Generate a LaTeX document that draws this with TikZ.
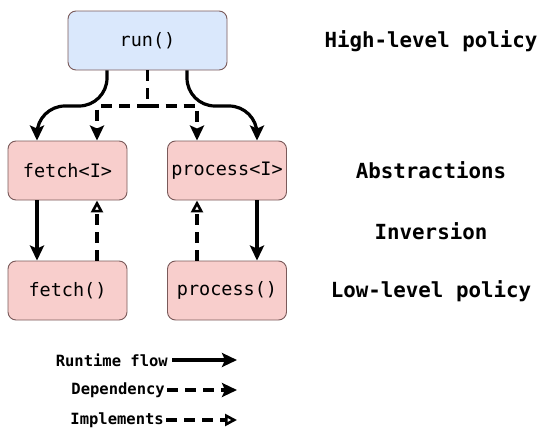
\documentclass[tikz,border=0pt]{standalone}
\usepackage{fontspec}
\setmonofont{DejaVu Sans Mono}
\usetikzlibrary{arrows.meta}
\definecolor{bluefill}{HTML}{DAE8FC}
\definecolor{redfill}{HTML}{F8CECC}
\definecolor{boxline}{HTML}{7A5A5A}
\tikzset{
  box/.style={draw=boxline, line width=0.9pt, rounded corners=8pt, minimum width=119pt, minimum height=59pt, inner sep=0pt, font=\ttfamily\fontsize{18.5}{20}\selectfont},
  hi/.style={box, fill=bluefill, minimum width=159pt},
  lo/.style={box, fill=redfill},
  side/.style={font=\ttfamily\bfseries\fontsize{20.8}{22}\selectfont},
  legend/.style={font=\ttfamily\bfseries\fontsize{15.5}{18}\selectfont, anchor=east, inner sep=0pt},
  flow/.style={line width=3.2pt, -{Stealth[length=15pt,width=14pt,inset=3pt]}},
  dashline/.style={line width=3.2pt, dash pattern=on 11pt off 7pt},
  dep/.style={dashline, -{Stealth[length=15pt,width=14pt,inset=3pt]}},
  impl/.style={dashline, -{Triangle[length=12pt,width=12pt,fill=white,line width=2.6pt]}},
}
\begin{document}
\begin{tikzpicture}[x=1pt,y=-1pt]
\useasboundingbox (0,0) rectangle (544,447);
\node[hi] (run) at (147.5,40.5) {run()};
\node[lo] (fetchI) at (67.5,170.5) {fetch<I>};
\node[lo] (procI) at (227,170.5) {process<I>};
\node[lo] (fetch) at (67.5,290.5) {fetch()};
\node[lo] (proc) at (227,290.5) {process()};

\node[side] (l1) at (431,41) {High-level policy};
\node[side] (l2) at (431,170) {Abstractions};
\node[side] (l3) at (431,231) {Inversion};
\node[side] (l4) at (431,291) {Low-level policy};

% runtime flow
\draw[flow, rounded corners=28pt] (run.south -| 107,0) -- (107,106) -- (37,106) -- (fetchI.north -| 37,0);
\draw[flow, rounded corners=28pt] (run.south -| 187,0) -- (187,106) -- (257,106) -- (procI.north -| 257,0);
% dependency
\coordinate (split) at (147.5,106);
\draw[dashline] (run.south) -- (split);
\draw[dep] (split) -- (97,106) -- (fetchI.north -| 97,0);
\draw[dep] (split) -- (197,106) -- (procI.north -| 197,0);
% lower
\draw[flow] (fetchI.south -| 37,0) -- (fetch.north -| 37,0);
\draw[impl] (fetch.north -| 97,0) -- (fetchI.south -| 97,0);
\draw[impl] (proc.north -| 197,0) -- (procI.south -| 197,0);
\draw[flow] (procI.south -| 257,0) -- (proc.north -| 257,0);

% legend
\node[legend] (lg1) at (168,360) {Runtime flow};
\node[legend] (lg2) at (165,390) {Dependency};
\node[legend] (lg3) at (164,420) {Implements};
\coordinate (e1) at (237,360);
\coordinate (e2) at (237,390);
\coordinate (e3) at (237,420);
\draw[flow] ([xshift=4pt]lg1.east) -- (e1);
\draw[dep] ([xshift=2pt]lg2.east) -- (e2);
\draw[impl] ([xshift=2pt]lg3.east) -- (e3);
\end{tikzpicture}
\end{document}
